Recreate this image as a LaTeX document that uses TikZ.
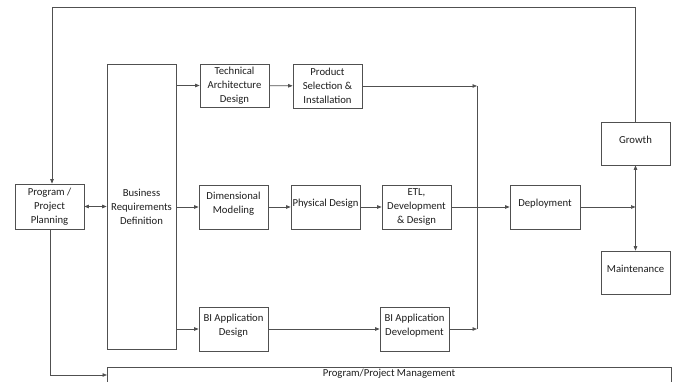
\documentclass[tikz,border=0pt]{standalone}
\usepackage{fontspec}
\setmainfont{Carlito}
\usetikzlibrary{arrows.meta}
\definecolor{edge}{HTML}{505050}
\definecolor{ink}{HTML}{1E1E1E}
\begin{document}
\begin{tikzpicture}[x=1pt,y=-1pt,
  font=\fontsize{10.7}{14}\selectfont,
  stagebox/.style={draw=edge, line width=0.7pt, text=ink, align=center,
    inner sep=0pt, minimum width=69pt, minimum height=44pt},
  raised/.style={text depth=8pt},
  flow/.style={draw=edge, line width=0.7pt, -{Triangle[length=4.5pt,width=3.5pt]}},
  both/.style={draw=edge, line width=0.7pt, {Triangle[length=4.5pt,width=3.5pt]}-{Triangle[length=4.5pt,width=3.5pt]}},
  plain/.style={draw=edge, line width=0.7pt}]
\useasboundingbox (0,0) rectangle (673,382);
\fill[white] (0,0) rectangle (673,382);

% stages
\node[stagebox, minimum height=45pt] (plan) at (49.5,206.5) {Program /\\Project\\Planning};
\node[stagebox, minimum height=285pt] (brd) at (141.5,206.5) {Business\\Requirements\\Definition};
\node[stagebox, minimum height=43pt] (tad) at (234.5,85.5) {Technical\\Architecture\\Design};
\node[stagebox] (psi) at (327.5,86) {Product\\Selection \&\\Installation};
\node[stagebox, raised] (dm) at (233.5,207) {Dimensional\\Modeling};
\node[stagebox, raised] (pd) at (325.5,207) {Physical Design};
\node[stagebox] (etl) at (416.5,207) {ETL,\\Development\\\& Design};
\node[stagebox, raised, minimum width=70pt] (dep) at (545,207) {Deployment};
\node[stagebox, raised, minimum height=43pt] (gro) at (635.5,143.5) {Growth};
\node[stagebox, raised, minimum height=43pt] (mnt) at (635.5,272.5) {Maintenance};
\node[stagebox, raised] (bad) at (233.5,329) {BI Application\\Design};
\node[stagebox, raised] (bdev) at (414.5,329) {BI Application\\Development};

% management band, running past the lower edge
\node[draw=edge, line width=0.7pt, text=ink, anchor=north, minimum width=564pt,
  inner ysep=1.5pt, text depth=30pt] (mgmt) at (389,367) {Program/Project Management};

% junction points
\coordinate (loop) at (52,7);
\coordinate (j1) at (477,86);
\coordinate (j2) at (477,329);
\coordinate (gm) at (635.5,207);
\coordinate (mgin) at (107,375);

% feedback loop from growth back to planning
\draw[flow] (gro.north) |- (loop) -- (loop |- plan.north);

% planning links
\draw[both] (plan.east |- brd) -- (brd.west |- brd);
\draw[flow] (50,229) |- (mgin);

% requirements feed the three tracks
\draw[flow] (brd.east |- tad) -- (tad.west);
\draw[flow] (brd.east |- dm) -- (dm.west);
\draw[flow] (brd.east |- bad) -- (bad.west);

% technology track
\draw[flow] (tad) -- (psi);
\draw[flow] (psi.east) -- (j1);

% data track
\draw[flow] (dm) -- (pd);
\draw[flow] (pd) -- (etl);
\draw[flow] (etl) -- (dep);

% application track
\draw[flow] (bad) -- (bdev);
\draw[flow] (bdev.east) -- (j2);
\draw[plain] (j1) -- (j2);

% deployment to growth / maintenance
\draw[flow] (dep.east) -- (gm);
\draw[both] (gro.south) -- (mnt.north);
\end{tikzpicture}
\end{document}
